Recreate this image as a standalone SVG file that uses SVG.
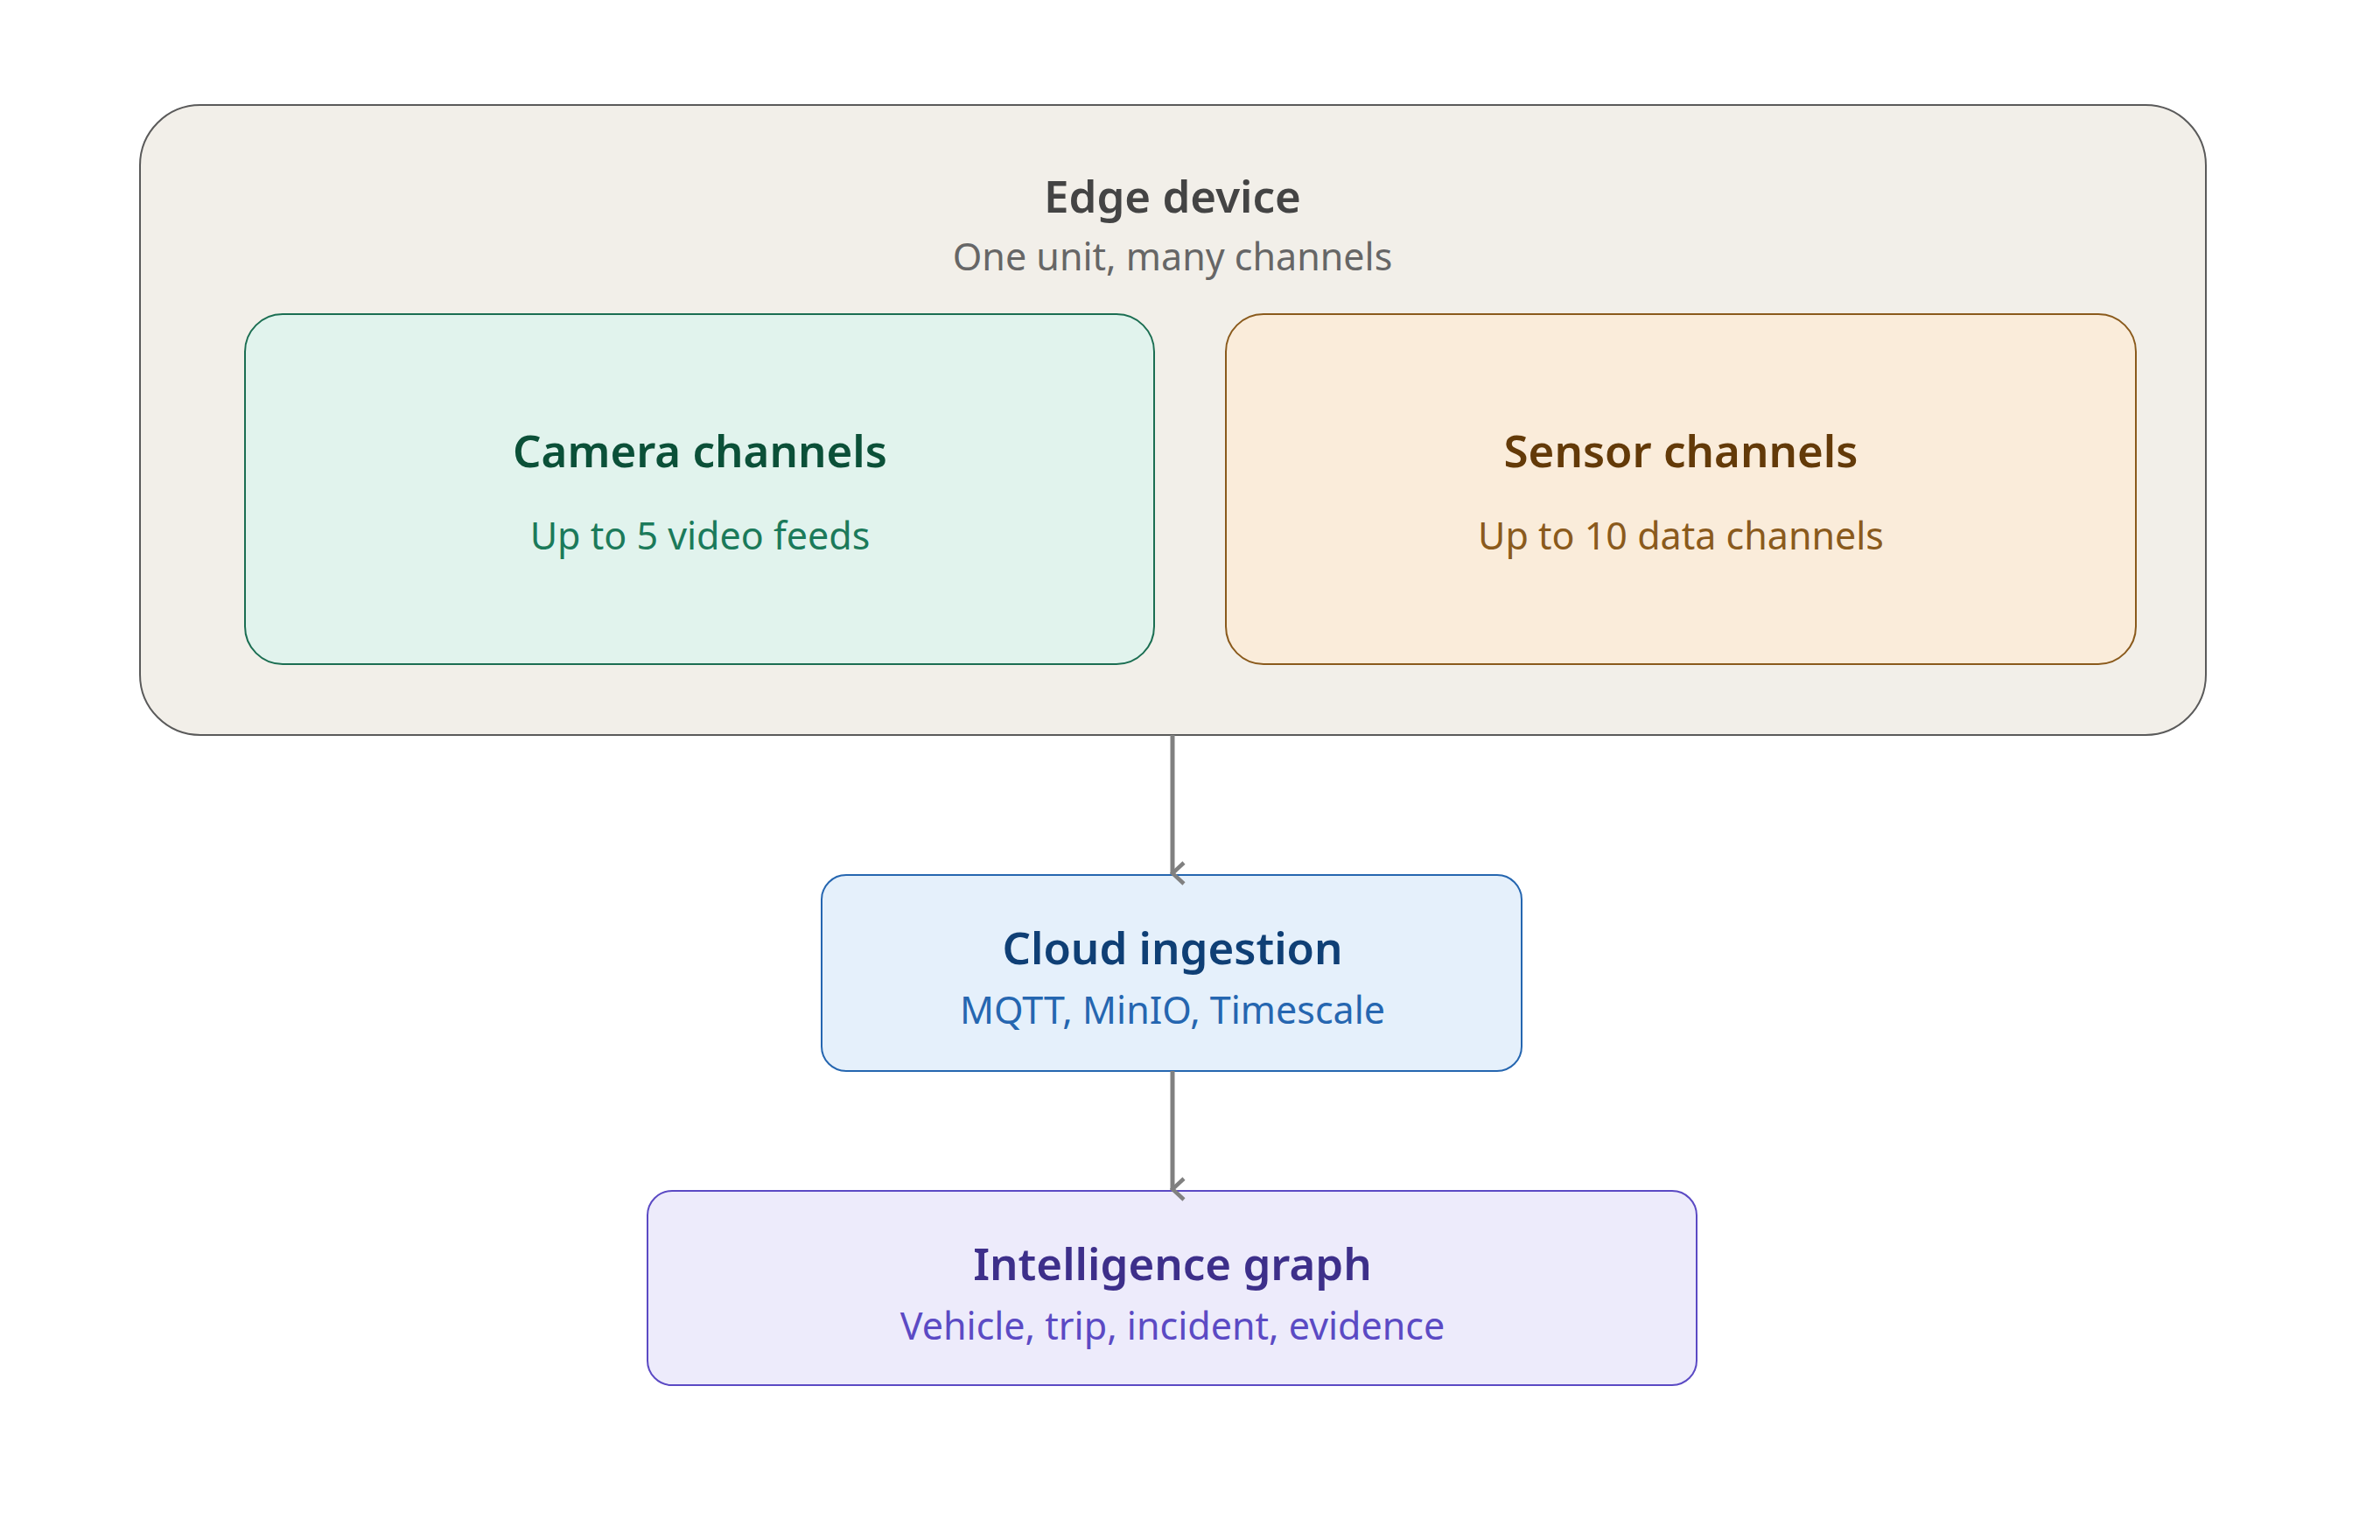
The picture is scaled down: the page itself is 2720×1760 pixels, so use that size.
<svg xmlns="http://www.w3.org/2000/svg" width="2720" height="1760" viewBox="0 0 2720 1760">
<defs>
<style>
text{font-family:"Noto Sans","Open Sans",sans-serif;text-anchor:middle}
.t{font-weight:600;font-size:51px}
.s{font-size:43px}
.conn{stroke:#808080;stroke-width:5;fill:none}
</style>
<marker id="ah" viewBox="0 0 30 30" refX="15" refY="27" markerWidth="30" markerHeight="30" markerUnits="userSpaceOnUse" orient="auto-start-reverse">
<path d="M3 14 L15 27 L27 14" fill="none" stroke="#808080" stroke-width="4.5"/>
</marker>
</defs>
<rect width="2720" height="1760" fill="#ffffff"/>
<g id="edge">
<rect x="160" y="120" width="2361" height="720" rx="69" fill="#f2efe9" stroke="#5a5a5a" stroke-width="2"/>
<text x="1340" y="243" class="t" fill="#444444">Edge device</text>
<text x="1340" y="309" class="s" fill="#666666">One unit, many channels</text>
</g>
<g id="camera">
<rect x="280" y="359" width="1039" height="400" rx="43" fill="#e1f3ed" stroke="#1b6e52" stroke-width="2"/>
<text x="800" y="534" class="t" fill="#0b5038">Camera channels</text>
<text x="800" y="628" class="s" fill="#1b7a5a">Up to 5 video feeds</text>
</g>
<g id="sensor">
<rect x="1401" y="359" width="1040" height="400" rx="43" fill="#faecda" stroke="#8a5a1c" stroke-width="2"/>
<text x="1921" y="534" class="t" fill="#633a08">Sensor channels</text>
<text x="1921" y="628" class="s" fill="#8a5a1c">Up to 10 data channels</text>
</g>
<g id="cloud">
<rect x="939" y="1000" width="800" height="224" rx="28" fill="#e5f0fb" stroke="#2566b0" stroke-width="2"/>
<text x="1340" y="1102" class="t" fill="#0f3f75">Cloud ingestion</text>
<text x="1340" y="1170" class="s" fill="#2566b0">MQTT, MinIO, Timescale</text>
</g>
<g id="graph">
<rect x="740" y="1361" width="1199" height="222" rx="28" fill="#edebfb" stroke="#5b4ac4" stroke-width="2"/>
<text x="1340" y="1463" class="t" fill="#3d2f8a">Intelligence graph</text>
<text x="1340" y="1531" class="s" fill="#5b4ac4">Vehicle, trip, incident, evidence</text>
</g>
<g id="connectors">
<line class="conn" x1="1340" y1="840" x2="1340" y2="998" marker-end="url(#ah)"/>
<line class="conn" x1="1340" y1="1224" x2="1340" y2="1359" marker-end="url(#ah)"/>
</g>
</svg>
